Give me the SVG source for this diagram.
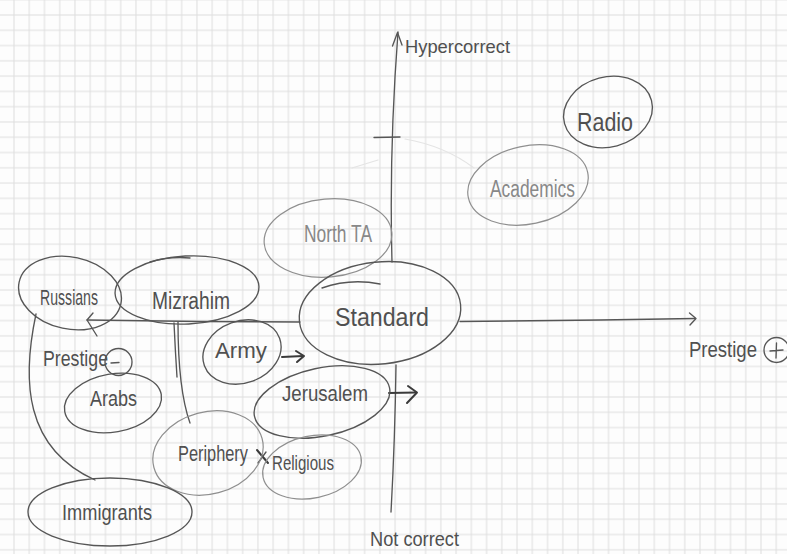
<svg xmlns="http://www.w3.org/2000/svg" width="787" height="554" viewBox="0 0 787 554">
  <style>
    .pen { fill: none; stroke: #565656; stroke-width: 1.35; stroke-linecap: round; stroke-linejoin: round; }
    .soft { fill: none; stroke: #8f8f8f; stroke-width: 1.2; stroke-linecap: round; }
    .faint { fill: none; stroke: #e4e4e4; stroke-width: 1.2; stroke-linecap: round; }
    .ink { fill: none; stroke: #3a3a3a; stroke-width: 2; stroke-linecap: round; stroke-linejoin: round; }
    .lbl { font-family: "Liberation Sans", "DejaVu Sans", sans-serif; fill: #505050; }
    .lbl-soft { font-family: "Liberation Sans", "DejaVu Sans", sans-serif; fill: #888888; }
  </style>
  <defs>
    <pattern id="grid" patternUnits="userSpaceOnUse" x="6.38" y="7.36" width="15.245" height="15.28">
      <path d="M7.62 0V15.28M0 7.64H15.245" fill="none" stroke="#dedede" stroke-width="1"/>
    </pattern>
  </defs>

  <!-- squared paper -->
  <rect width="787" height="554" fill="#fdfdfd"/>
  <rect width="787" height="554" fill="url(#grid)"/>

  <!-- axes, arrows and links -->
  <g id="connectors">
    <!-- vertical axis -->
    <path class="pen" d="M398,32 Q389,150 392,262"/>
    <path class="pen" d="M396,365 Q395,440 391,512"/>
    <path class="pen" d="M392.5,46 L397.5,32.5 L402,45"/>
    <path class="pen" d="M374,137.5 L400,137"/>
    <!-- horizontal axis -->
    <path class="pen" d="M87,320 L200,321.5 L300,322"/>
    <path class="pen" d="M460,321.5 L600,320 L695,318.5"/>
    <path class="pen" d="M689.5,313 L696,318.5 L690,325"/>
    <path class="pen" d="M93,313 L87,320 L97,336"/>
    <!-- erased arc -->
    <path class="faint" d="M405,139 Q445,146 474,168"/>
    <path class="faint" d="M352,168 L378,160"/>
    <!-- Russians to Immigrants -->
    <path class="pen" d="M36,314 C22,380 24,448 95,480"/>
    <!-- Mizrahim to Periphery -->
    <path class="pen" d="M178,322 C178,360 180,395 190,423"/>
    <path class="pen" d="M174,323 C175,345 176,362 177,377"/>
    <!-- Army to Standard -->
    <path class="ink" d="M282,357 L303,356"/>
    <path class="ink" d="M296,351 L304,356 L297,362"/>
    <!-- Jerusalem to the right -->
    <path class="ink" d="M389,393 L416,392.5"/>
    <path class="ink" d="M408,386 L417,392.5 L407,403"/>
    <!-- cross between Periphery and Religious -->
    <path class="ink" d="M257,450 L268,463"/>
    <path class="pen" d="M258,463 L266,452"/>
  </g>

  <g id="radio">
    <ellipse class="pen" cx="608" cy="112" rx="45" ry="35" transform="rotate(-15 608 112)"/>
    <text class="lbl" x="577" y="131" font-size="26" textLength="56" lengthAdjust="spacingAndGlyphs">Radio</text>
  </g>

  <g id="academics">
    <ellipse class="soft" cx="528" cy="185" rx="61" ry="39" transform="rotate(-12 528 185)"/>
    <text class="lbl-soft" x="490" y="197" font-size="23" textLength="85" lengthAdjust="spacingAndGlyphs">Academics</text>
  </g>

  <g id="north-ta">
    <ellipse class="soft" cx="328" cy="238" rx="64" ry="39" transform="rotate(-5 328 238)"/>
    <text class="lbl-soft" x="304" y="242" font-size="24" textLength="68" lengthAdjust="spacingAndGlyphs">North TA</text>
  </g>

  <g id="standard">
    <ellipse class="pen" cx="380" cy="313" rx="81" ry="51" transform="rotate(-6 380 313)"/>
    <path class="pen" d="M322,288 Q350,278 380,284"/>
    <text class="lbl" x="335" y="326" font-size="25" textLength="94" lengthAdjust="spacingAndGlyphs">Standard</text>
  </g>

  <g id="russians">
    <ellipse class="pen" cx="70" cy="293" rx="52" ry="36" transform="rotate(12 70 293)"/>
    <text class="lbl" x="40" y="305" font-size="22" textLength="58" lengthAdjust="spacingAndGlyphs">Russians</text>
  </g>

  <g id="mizrahim">
    <ellipse class="pen" cx="187" cy="290" rx="72" ry="34" transform="rotate(-3 187 290)"/>
    <path class="pen" d="M150,262 Q170,256 190,258"/>
    <text class="lbl" x="152" y="309" font-size="23" textLength="78" lengthAdjust="spacingAndGlyphs">Mizrahim</text>
  </g>

  <g id="prestige-minus">
    <text class="lbl" x="43" y="366" font-size="22" textLength="65" lengthAdjust="spacingAndGlyphs">Prestige</text>
    <circle class="pen" cx="118.5" cy="362" r="13.5"/>
    <path class="pen" d="M111,363 L119,362.5"/>
  </g>

  <g id="arabs">
    <ellipse class="pen" cx="113" cy="403" rx="49" ry="29" transform="rotate(-10 113 403)"/>
    <text class="lbl" x="90" y="406" font-size="22" textLength="47" lengthAdjust="spacingAndGlyphs">Arabs</text>
  </g>

  <g id="army">
    <ellipse class="pen" cx="242" cy="352" rx="40" ry="31" transform="rotate(-20 242 352)"/>
    <text class="lbl" x="215" y="358" font-size="22" textLength="52" lengthAdjust="spacingAndGlyphs">Army</text>
  </g>

  <g id="jerusalem">
    <ellipse class="pen" cx="322" cy="402" rx="69" ry="34" transform="rotate(-12 322 402)"/>
    <text class="lbl" x="282" y="401" font-size="22" textLength="86" lengthAdjust="spacingAndGlyphs">Jerusalem</text>
  </g>

  <g id="periphery">
    <ellipse class="soft" cx="208" cy="453" rx="56" ry="41" transform="rotate(-15 208 453)"/>
    <text class="lbl" x="178" y="461" font-size="22" textLength="70" lengthAdjust="spacingAndGlyphs">Periphery</text>
  </g>

  <g id="religious">
    <ellipse class="soft" cx="312" cy="467" rx="50" ry="31" transform="rotate(-12 312 467)"/>
    <text class="lbl" x="272" y="470" font-size="20" textLength="62" lengthAdjust="spacingAndGlyphs">Religious</text>
  </g>

  <g id="immigrants">
    <ellipse class="pen" cx="110" cy="512" rx="82" ry="34"/>
    <text class="lbl" x="62" y="520" font-size="22" textLength="90" lengthAdjust="spacingAndGlyphs">Immigrants</text>
  </g>

  <g id="axis-labels">
    <text class="lbl" x="405" y="53" font-size="19" textLength="105" lengthAdjust="spacingAndGlyphs">Hypercorrect</text>
    <text class="lbl" x="370" y="546" font-size="20" textLength="89" lengthAdjust="spacingAndGlyphs">Not correct</text>
    <text class="lbl" x="689" y="357" font-size="22" textLength="68" lengthAdjust="spacingAndGlyphs">Prestige</text>
    <circle class="pen" cx="776.5" cy="350" r="12.5"/>
    <path class="pen" d="M770,351 L783,350 M776.5,343 L776,358"/>
  </g>
</svg>
